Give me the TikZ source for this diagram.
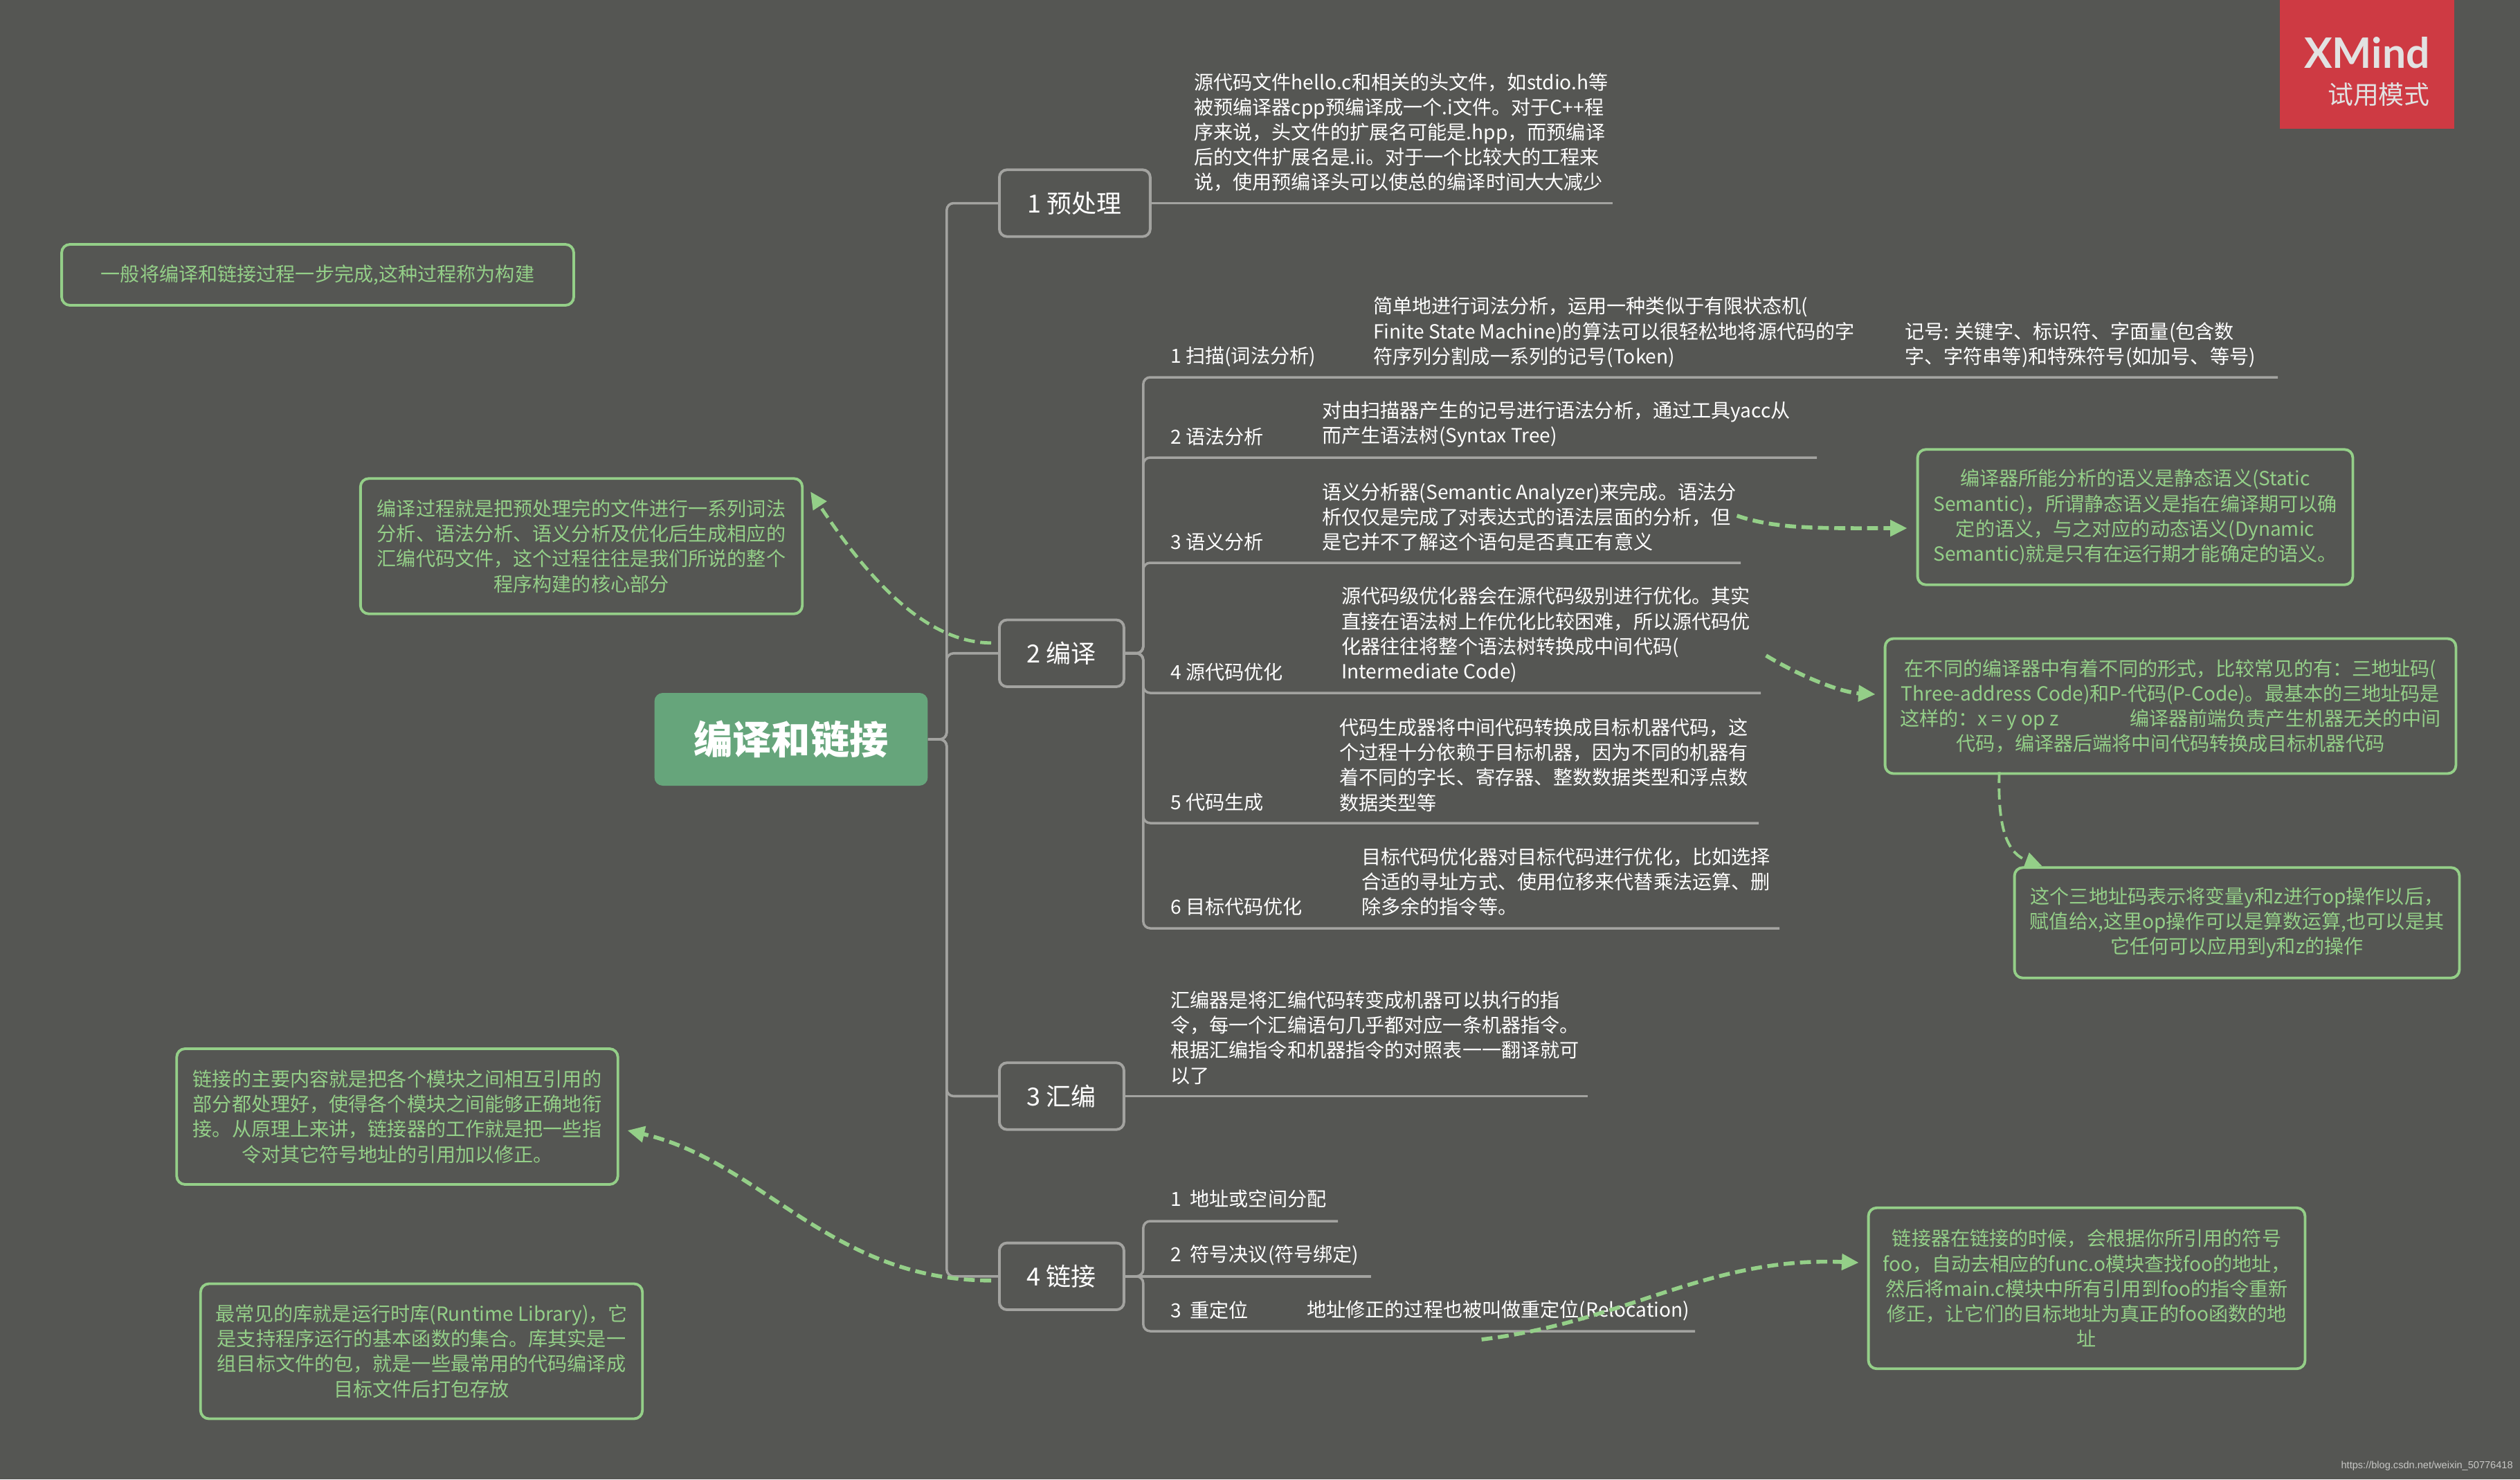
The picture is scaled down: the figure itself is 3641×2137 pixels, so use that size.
\documentclass[tikz,border=0pt]{standalone}
\usepackage{fontspec}
\setmainfont{Noto Sans CJK SC}
\newfontfamily\logofont{Lato}
\newfontfamily\urlfont{Liberation Sans}
\usetikzlibrary{positioning,arrows.meta}
\definecolor{bggray}{HTML}{555653}
\definecolor{linegray}{HTML}{A3A3A0}
\definecolor{notegreen}{HTML}{94CF88}
\definecolor{rootgreen}{HTML}{66A57B}
\definecolor{logored}{HTML}{CE3A43}
\definecolor{logotext}{HTML}{E2E2E2}
\begin{document}
\begin{tikzpicture}[x=0.02cm, y=-0.02cm, main/.style = {draw=linegray, line width=2.2pt, rounded corners=.22cm, minimum width=3.6cm, minimum height=1.93cm, text=white, font=\fontsize{20.5}{24}\selectfont}, note/.style = {draw=notegreen, line width=2.2pt, rounded corners=.24cm, align=center, text=notegreen, inner sep=0pt, font=\fontsize{16}{20.6}\selectfont}, leaf/.style = {anchor=west, align=left, text=white, inner sep=0pt, font=\fontsize{16}{20.6}\selectfont}, every edge/.append style={draw=linegray, line width=2pt}, branch/.style={draw=linegray, line width=2pt, rounded corners=.2cm}, hint/.style={draw=notegreen, line width=3.2pt, dash pattern=on 9pt off 4.5pt, -{Triangle[length=14pt,width=13pt]}}]

\fill[bggray] (0,0) rectangle (3641,2137);
\useasboundingbox (0,0) rectangle (3641,2137);

\node[anchor=north west, fill=logored, minimum width=5.04cm, minimum height=3.72cm, inner sep=0pt] (logo) at (3294,0) {};
\node[anchor=base east, inner sep=0pt, text=logotext, font=\logofont\bfseries\fontsize{34.5}{38}\selectfont] (xm) at (3511,98) {XMind};
\node[anchor=base east, inner sep=0pt, text=logotext, font=\fontsize{21}{24}\selectfont] (ty) at (3511,150) {试用模式};

\node[fill=rootgreen, rounded corners=.24cm, minimum width=7.9cm, minimum height=2.68cm, text=white, font=\bfseries\fontsize{32}{36}\selectfont] (root) at (1143,1068) {编译和链接};

\node[main, anchor=west, minimum width=4.36cm] (p1) at (1442,293.5) {1 预处理};
\node[main] (p2) [below=11cm of p1.south west, anchor=north west] {2 编译};
\node[main] (p3) [below=10.79cm of p2.south west, anchor=north west] {3 汇编};
\node[main] (p4) [below=3.2cm of p3.south west, anchor=north west] {4 链接};

\node[leaf] (d1) at (1725,191) {源代码文件hello.c和相关的头文件，如stdio.h等\\被预编译器cpp预编译成一个.i文件。对于C++程\\序来说，头文件的扩展名可能是.hpp，而预编译\\后的文件扩展名是.ii。对于一个比较大的工程来\\说，使用预编译头可以使总的编译时间大大减少};

\node[leaf] (s1) at (1691,515) {1 扫描(词法分析)};
\node[leaf] (s1a) at (1984,480) {简单地进行词法分析，运用一种类似于有限状态机(\\Finite State Machine)的算法可以很轻松地将源代码的字\\符序列分割成一系列的记号(Token)};
\node[leaf] (s1b) at (2752,498) {记号: 关键字、标识符、字面量(包含数\\字、字符串等)和特殊符号(如加号、等号)};
\node[leaf] (s2) at (1691,631) {2 语法分析};
\node[leaf] (s2a) at (1910,613) {对由扫描器产生的记号进行语法分析，通过工具yacc从\\而产生语法树(Syntax Tree)};
\node[leaf] (s3) at (1691,783) {3 语义分析};
\node[leaf] (s3a) at (1910,747) {语义分析器(Semantic Analyzer)来完成。语法分\\析仅仅是完成了对表达式的语法层面的分析，但\\是它并不了解这个语句是否真正有意义};
\node[leaf] (s4) at (1691,971) {4 源代码优化};
\node[leaf] (s4a) at (1938,917) {源代码级优化器会在源代码级别进行优化。其实\\直接在语法树上作优化比较困难，所以源代码优\\化器往往将整个语法树转换成中间代码(\\Intermediate Code)};
\node[leaf] (s5) at (1691,1159) {5 代码生成};
\node[leaf] (s5a) at (1935,1105) {代码生成器将中间代码转换成目标机器代码，这\\个过程十分依赖于目标机器，因为不同的机器有\\着不同的字长、寄存器、整数数据类型和浮点数\\数据类型等};
\node[leaf] (s6) at (1691,1310) {6 目标代码优化};
\node[leaf] (s6a) at (1967,1274) {目标代码优化器对目标代码进行优化，比如选择\\合适的寻址方式、使用位移来代替乘法运算、删\\除多余的指令等。};

\node[leaf] (d3) at (1691,1499) {汇编器是将汇编代码转变成机器可以执行的指\\令，每一个汇编语句几乎都对应一条机器指令。\\根据汇编指令和机器指令的对照表一一翻译就可\\以了};

\node[leaf] (k1) at (1691,1732) {1 \ 地址或空间分配};
\node[leaf] (k2) at (1691,1813) {2 \ 符号决议(符号绑定)};
\node[leaf] (k3) at (1691,1893) {3 \ 重定位};
\node[leaf] (k3a) at (1888,1893) {地址修正的过程也被叫做重定位(Relocation)};

\coordinate (e1) at (p1.east -| 2330,0);
\coordinate (e3) at (p3.east -| 2294,0);
\coordinate (c1) at (3291,545);
\coordinate (c2) at (2625,661);
\coordinate (c3) at (2515,813);
\coordinate (c4) at (2544,1001);
\coordinate (c5) at (2541,1189);
\coordinate (c6) at (2571,1341);
\coordinate (c7) at (1933,1764);
\coordinate (c8) at (p4.east -| 1981,0);
\coordinate (c9) at (2449,1923);

\draw[branch] (root.east) -- ++(27,0) |- (p1.west);
\draw[branch] (root.east) -- ++(27,0) |- (p2.west);
\draw[branch] (root.east) -- ++(27,0) |- (p3.west);
\draw[branch] (root.east) -- ++(27,0) |- (p4.west);
\draw[branch] (p2.east) -- ++(26,0) |- (c1);
\draw[branch] (p2.east) -- ++(26,0) |- (c2);
\draw[branch] (p2.east) -- ++(26,0) |- (c3);
\draw[branch] (p2.east) -- ++(26,0) |- (c4);
\draw[branch] (p2.east) -- ++(26,0) |- (c5);
\draw[branch] (p2.east) -- ++(26,0) |- (c6);
\draw[branch] (p4.east) -- ++(26,0) |- (c7);
\draw[branch] (p4.east) -- (c8);
\draw[branch] (p4.east) -- ++(26,0) |- (c9);

\path
    (p1.east) edge (e1)
    (p3.east) edge (e3);

\node[note, minimum width=14.8cm, minimum height=1.76cm] (na) at (459,397) {一般将编译和链接过程一步完成,这种过程称为构建};
\node[note, minimum width=12.77cm, minimum height=3.91cm] (nb) at (840,789) {编译过程就是把预处理完的文件进行一系列词法\\分析、语法分析、语义分析及优化后生成相应的\\汇编代码文件，这个过程往往是我们所说的整个\\程序构建的核心部分};
\node[note, minimum width=12.58cm, minimum height=3.91cm] (nc) at (3085,747) {编译器所能分析的语义是静态语义(Static\\Semantic)，所谓静态语义是指在编译期可以确\\定的语义，与之对应的动态语义(Dynamic\\Semantic)就是只有在运行期才能确定的语义。};
\node[note, minimum width=16.5cm, minimum height=3.9cm] (nd) at (3136,1020) {在不同的编译器中有着不同的形式，比较常见的有：三地址码(\\Three-address Code)和P-代码(P-Code)。最基本的三地址码是\\这样的：x = y op z \hspace{1.92cm}编译器前端负责产生机器无关的中间\\代码，编译器后端将中间代码转换成目标机器代码};
\node[note, minimum width=12.86cm, minimum height=3.19cm] (ne) at (3232,1333) {这个三地址码表示将变量y和z进行op操作以后，\\赋值给x,这里op操作可以是算数运算,也可以是其\\它任何可以应用到y和z的操作};
\node[note, minimum width=12.62cm, minimum height=4.65cm] (nf) at (3015,1861) {链接器在链接的时候，会根据你所引用的符号\\foo，自动去相应的func.o模块查找foo的地址，\\然后将main.c模块中所有引用到foo的指令重新\\修正，让它们的目标地址为真正的foo函数的地\\址};
\node[note, minimum width=12.75cm, minimum height=3.92cm] (ng) at (574,1613) {链接的主要内容就是把各个模块之间相互引用的\\部分都处理好，使得各个模块之间能够正确地衔\\接。从原理上来讲，链接器的工作就是把一些指\\令对其它符号地址的引用加以修正。};
\node[note, minimum width=12.77cm, minimum height=3.9cm] (nh) at (609,1952) {最常见的库就是运行时库(Runtime Library)，它\\是支持程序运行的基本函数的集合。库其实是一\\组目标文件的包，就是一些最常用的代码编译成\\目标文件后打包存放};

\draw[hint, line width=2.7pt] ([shift={(-10,-15)}]p2.west) .. controls +(-103,0) and +(71,107) .. ([shift={(10,21)}]nb.north east);
\draw[hint] ([shift={(-259,-2)}]nc.west) .. controls +(58,20) and +(-120,0) .. ([shift={(-13,16)}]nc.west);
\draw[hint] ([shift={(-170,-73)}]nd.west) .. controls +(46,28) and +(-52,-3) .. ([shift={(-12,-17)}]nd.west);
\draw[hint, line width=2.2pt] ([shift={(167,-4)}]nd.south west) .. controls +(-3,87) and +(-48,-18) .. ([shift={(42,0)}]ne.north west);
\draw[hint] ([shift={(-10,6)}]p4.west) .. controls +(-233,0) and +(195,45) .. ([shift={(12,20)}]ng.east);
\draw[hint] ([shift={(-557,74)}]nf.west) .. controls +(207,-25) and +(-218,-9) .. ([shift={(-12,-37)}]nf.west);

\node[anchor=east, inner sep=0pt, text=linegray!60!white, font=\urlfont\fontsize{8.3}{10}\selectfont] (url) at (3631,2118) {https://blog.csdn.net/weixin\_50776418};
\end{tikzpicture}
\end{document}
